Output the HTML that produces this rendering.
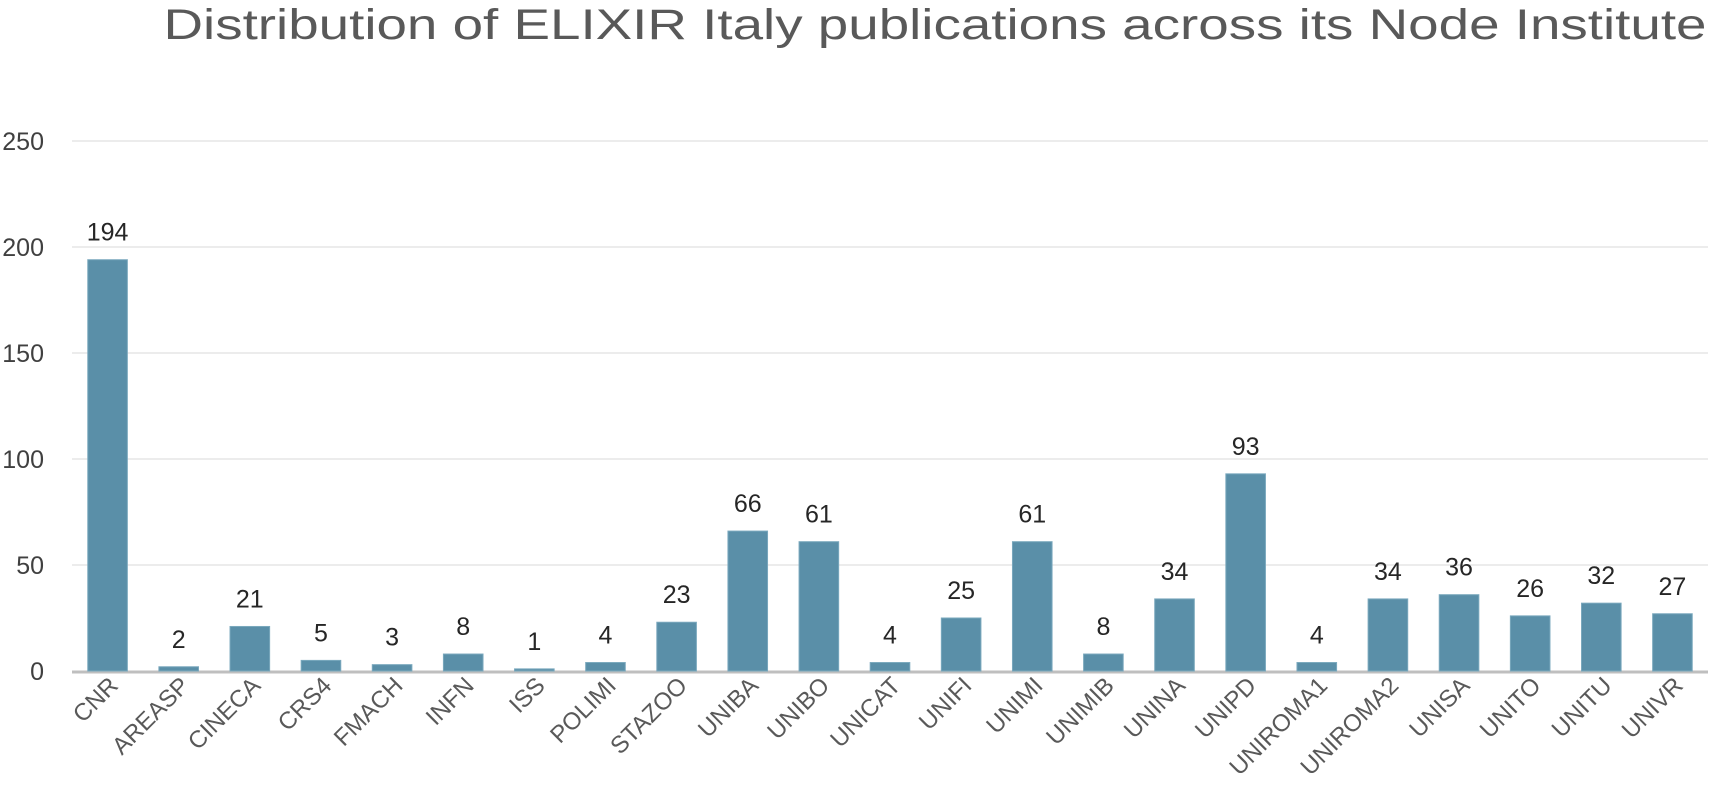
<!DOCTYPE html>
<html><head><meta charset="utf-8"><style>
body{margin:0;background:#fff;}
svg{display:block;font-family:"Liberation Sans",sans-serif;}
</style></head><body>
<svg id="chart" width="1713" height="801" viewBox="0 0 1713 801">
<text x="935" y="39" text-anchor="middle" font-size="43" fill="#595959" textLength="1543" lengthAdjust="spacingAndGlyphs">Distribution of ELIXIR Italy publications across its Node Institute</text>
<g id="grid"></g><g id="bars"></g><g id="labels"></g>
</svg>
<script>
const categories=["CNR","AREASP","CINECA","CRS4","FMACH","INFN","ISS","POLIMI","STAZOO","UNIBA","UNIBO","UNICAT","UNIFI","UNIMI","UNIMIB","UNINA","UNIPD","UNIROMA1","UNIROMA2","UNISA","UNITO","UNITU","UNIVR"];
const values=[194,2,21,5,3,8,1,4,23,66,61,4,25,61,8,34,93,4,34,36,26,32,27];
const yTicks=[0,50,100,150,200,250];
const NS="http://www.w3.org/2000/svg";
const left=72,right=1708,y0=671,yTop=141,maxV=250;
const step=(right-left)/categories.length,bw=39.6;
function y(v){return y0-(v/maxV)*(y0-yTop);}
function x(i){return left+step*(i+0.5);}
function mk(tag,attrs,parent){const e=document.createElementNS(NS,tag);for(const k in attrs)e.setAttribute(k,attrs[k]);parent.appendChild(e);return e;}
const g=document.getElementById('grid'),b=document.getElementById('bars'),l=document.getElementById('labels');
yTicks.forEach(t=>{
  if(t>0){const ln=mk('line',{x1:left,x2:right,y1:y(t),y2:y(t),stroke:'#e6e6e6','stroke-width':1.5},g);
  
  }
  const tx=mk('text',{x:44,y:y(t)+9,'text-anchor':'end','font-size':25,fill:'#404040'},g);
  tx.textContent=t;
  
  
});
categories.forEach((c,i)=>{
  const v=values[i];
  const r=mk('rect',{x:x(i)-bw/2,y:y(v),width:bw,height:y0-y(v),fill:'#5a8fa8',stroke:'#7aa8bd','stroke-width':1},b);
  
  
  const vt=mk('text',{x:x(i),y:y(v)-19,'text-anchor':'middle','font-size':25,fill:'#262626'},l);
  vt.textContent=v;
  
  
  const ax=x(i)+12,ay=y0+16;
  const ct=mk('text',{x:ax,y:ay,'text-anchor':'end','font-size':24,fill:'#595959',transform:`rotate(-45 ${ax} ${ay})`},l);
  ct.textContent=c;
  
  
});
const axl=mk('line',{x1:left,x2:right,y1:y0+1,y2:y0+1,stroke:'#bfbfbf','stroke-width':3},g);


</script>
</body></html>
